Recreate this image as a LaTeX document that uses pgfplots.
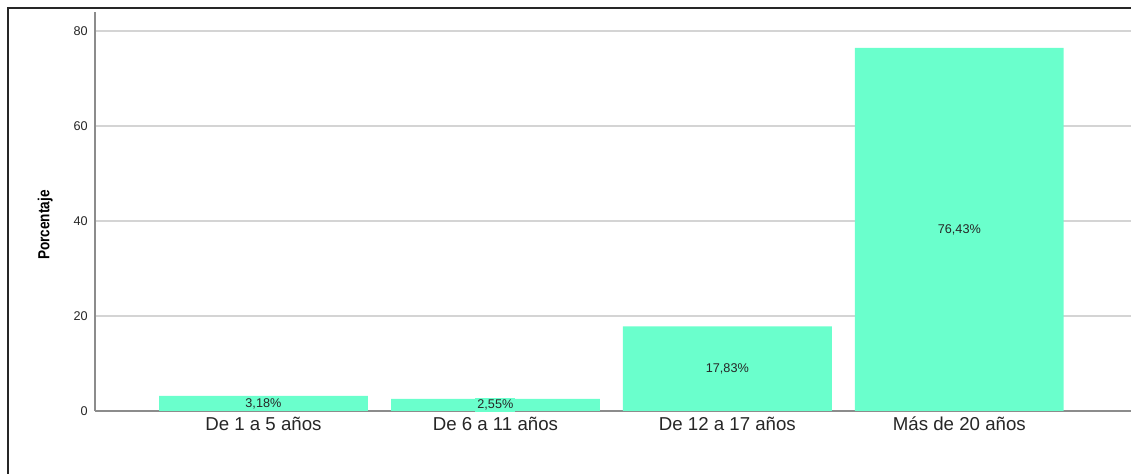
\documentclass[border=0pt]{standalone}
\usepackage{fontspec}
\setmainfont{Liberation Sans}
\usepackage{pgfplots}
\pgfplotsset{compat=1.18}
\definecolor{barc}{HTML}{6AFFCC}
\definecolor{gridc}{HTML}{D4D4D4}
\definecolor{axc}{HTML}{8C8C8C}
\begin{document}
\begin{tikzpicture}
\path[use as bounding box] (-71.25pt,-47.25pt) rectangle (777pt,308.25pt);
\begin{axis}[
    at={(0,0)}, anchor=south west,
    scale only axis,
    width=777pt, height=299.25pt,
    xmin=-0.726, xmax=3.74,
    ymin=0, ymax=84,
    axis x line*=bottom, axis y line*=left,
    axis line style={axc, line width=0.9pt, -},
    xtick=data,
    xticklabels={De 1 a 5 años, De 6 a 11 años, De 12 a 17 años, Más de 20 años},
    ytick={0,20,40,60,80},
    major tick length=0pt,
    ymajorgrids=true,
    grid style={gridc, line width=1pt},
    xticklabel style={font=\fontsize{14}{16}\selectfont, text=black!85, yshift=-1pt},
    yticklabel style={font=\fontsize{9.5}{11}\selectfont, text=black!85, xshift=-2pt},
    /pgf/number format/assume math mode=true,
    ylabel={\scalebox{0.85}[1]{Porcentaje}},
    ylabel style={at={(axis description cs:-0.048,0.466)}, anchor=center,
        font=\fontsize{12}{14}\selectfont\bfseries},
]
\addplot[ybar, bar width=0.9, fill=barc, draw=none,
    visualization depends on={y \as \rawy},
    nodes near coords={\pgfmathprintnumber[fixed,fixed zerofill,precision=2,use comma]{\pgfplotspointmeta}\%},
    every node near coord/.append style={anchor=center,
        shift={(axis direction cs:0,-\rawy/2)},
        fill=barc, inner sep=1.5pt, text=black!85,
        font=\fontsize{9.5}{11}\selectfont},
] coordinates {(0,3.18) (1,2.55) (2,17.83) (3,76.43)};
\end{axis}
\draw[line width=1.5pt, black!85] (-65.25pt,-47.25pt) -- (-65.25pt,302.25pt) -- (777pt,302.25pt);
\end{tikzpicture}
\end{document}
